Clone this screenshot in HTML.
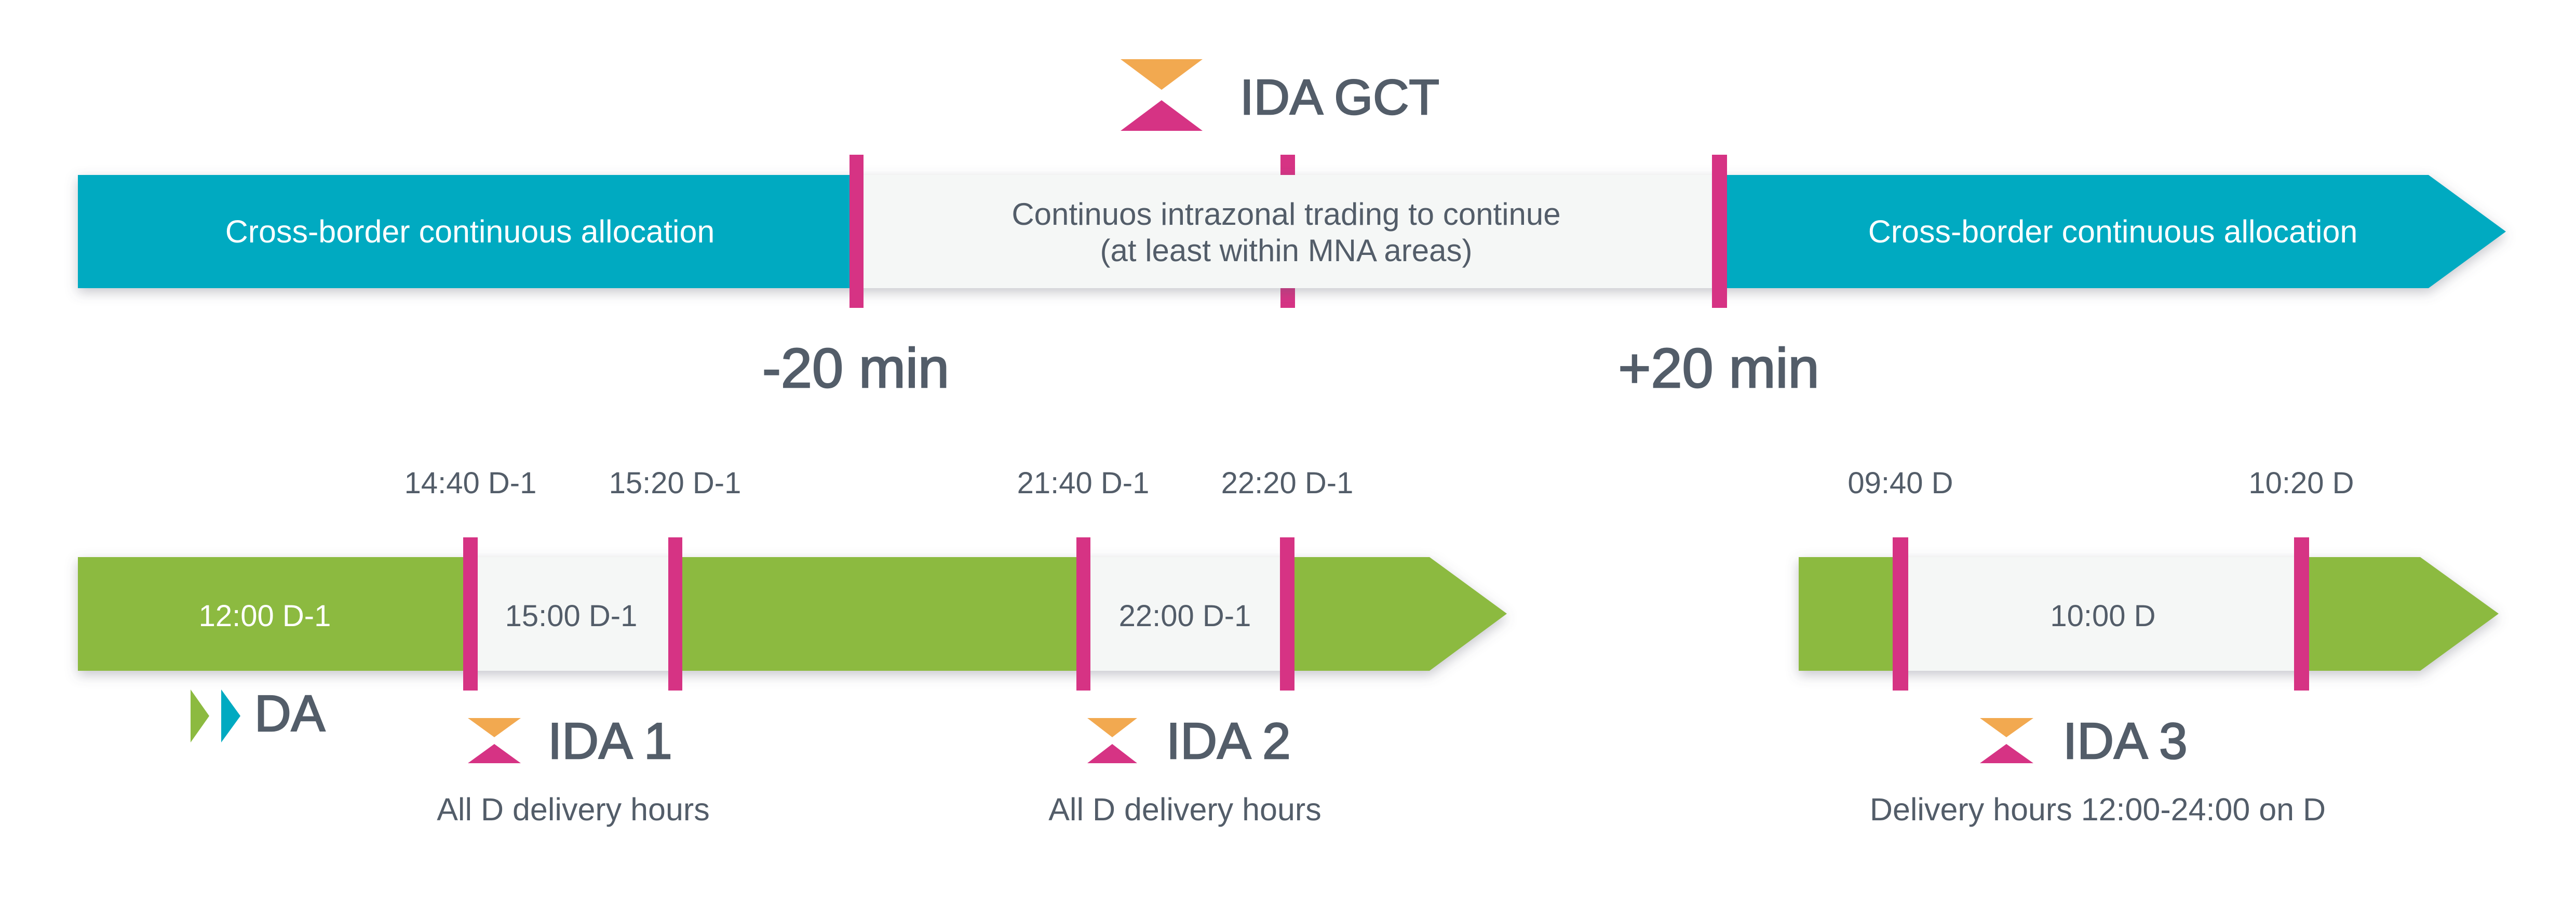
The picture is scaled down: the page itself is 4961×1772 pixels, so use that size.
<!DOCTYPE html>
<html><head><meta charset="utf-8"><style>
html,body{margin:0;padding:0;background:#fff;}
svg{display:block;}
text{font-family:"Liberation Sans",sans-serif;}
.big{stroke:#535d69;stroke-width:2.5;}
</style></head><body>
<svg width="4961" height="1772" viewBox="0 0 4961 1772" xmlns="http://www.w3.org/2000/svg">
<defs>
<filter id="sh" x="-5%" y="-30%" width="110%" height="160%">
<feDropShadow dx="0" dy="8" stdDeviation="12" flood-color="#606070" flood-opacity="0.35"/>
</filter>
</defs>
<!-- TOP BAR -->
<rect x="2466" y="298" width="28" height="295" fill="#d63384"/>
<polygon points="150,337 4677,337 4826,446 4677,555 150,555" fill="#00aac1" filter="url(#sh)"/>
<rect x="1650" y="337" width="1660" height="218" fill="#f5f7f6"/>
<rect x="1636" y="298" width="27" height="295" fill="#d63384"/>
<rect x="3297" y="298" width="29" height="295" fill="#d63384"/>
<text x="905" y="467" font-size="61" fill="#fff" text-anchor="middle">Cross-border continuous allocation</text>
<text x="4069" y="467" font-size="61" fill="#fff" text-anchor="middle">Cross-border continuous allocation</text>
<text x="2477" y="433" font-size="60" fill="#535d69" text-anchor="middle">Continuos intrazonal trading to continue</text>
<text x="2477" y="503" font-size="60" fill="#535d69" text-anchor="middle">(at least within MNA areas)</text>
<!-- IDA GCT -->
<polygon points="2158,114 2316,114 2237,173" fill="#f2a950"/>
<polygon points="2237,193 2316,252 2158,252" fill="#d63384"/>
<text class="big" x="2388" y="220" font-size="96" fill="#535d69">IDA GCT</text>
<text class="big" x="1648" y="746" font-size="108" fill="#535d69" text-anchor="middle">-20 min</text>
<text class="big" x="3310" y="746" font-size="108" fill="#535d69" text-anchor="middle">+20 min</text>
<!-- BOTTOM BAR 1 -->
<polygon points="150,1073 2753,1073 2902,1182 2753,1292 150,1292" fill="#8cba40" filter="url(#sh)"/>
<rect x="906" y="1073" width="394" height="219" fill="#f5f7f6"/>
<rect x="2086" y="1073" width="394" height="219" fill="#f5f7f6"/>
<rect x="892" y="1035" width="28" height="295" fill="#d63384"/>
<rect x="1287" y="1035" width="27" height="295" fill="#d63384"/>
<rect x="2073" y="1035" width="27" height="295" fill="#d63384"/>
<rect x="2465" y="1035" width="28" height="295" fill="#d63384"/>
<text x="510" y="1206" font-size="58" fill="#fff" text-anchor="middle">12:00 D-1</text>
<text x="1100" y="1206" font-size="58" fill="#535d69" text-anchor="middle">15:00 D-1</text>
<text x="2282" y="1206" font-size="58" fill="#535d69" text-anchor="middle">22:00 D-1</text>
<!-- BOTTOM BAR 2 -->
<polygon points="3464,1073 4661,1073 4812,1182 4661,1292 3464,1292" fill="#8cba40" filter="url(#sh)"/>
<rect x="3660" y="1073" width="772" height="219" fill="#f5f7f6"/>
<rect x="3645" y="1035" width="30" height="295" fill="#d63384"/>
<rect x="4418" y="1035" width="29" height="295" fill="#d63384"/>
<text x="4050" y="1206" font-size="58" fill="#535d69" text-anchor="middle">10:00 D</text>
<!-- time labels -->
<g font-size="58" fill="#535d69" text-anchor="middle">
<text x="906" y="950">14:40 D-1</text>
<text x="1300" y="950">15:20 D-1</text>
<text x="2086" y="950">21:40 D-1</text>
<text x="2479" y="950">22:20 D-1</text>
<text x="3660" y="950">09:40 D</text>
<text x="4432" y="950">10:20 D</text>
</g>
<!-- DA -->
<polygon points="367,1328 403,1379 367,1430" fill="#8cba40"/>
<polygon points="426,1328 463,1379 426,1430" fill="#00aac1"/>
<text class="big" x="490" y="1408" font-size="98" fill="#535d69">DA</text>
<!-- IDA 1 -->
<polygon points="901,1383 1003,1383 952,1420" fill="#f2a950"/>
<polygon points="952,1433 1003,1470 901,1470" fill="#d63384"/>
<text class="big" x="1055" y="1461" font-size="98" fill="#535d69">IDA 1</text>
<text x="1104" y="1580" font-size="61" fill="#535d69" text-anchor="middle">All D delivery hours</text>
<!-- IDA 2 -->
<polygon points="2094,1383 2190,1383 2142,1420" fill="#f2a950"/>
<polygon points="2142,1433 2190,1470 2094,1470" fill="#d63384"/>
<text class="big" x="2246" y="1461" font-size="98" fill="#535d69">IDA 2</text>
<text x="2282" y="1580" font-size="61" fill="#535d69" text-anchor="middle">All D delivery hours</text>
<!-- IDA 3 -->
<polygon points="3813,1383 3916,1383 3864,1420" fill="#f2a950"/>
<polygon points="3864,1433 3916,1470 3813,1470" fill="#d63384"/>
<text class="big" x="3973" y="1461" font-size="98" fill="#535d69">IDA 3</text>
<text x="4040" y="1580" font-size="61" fill="#535d69" text-anchor="middle">Delivery hours 12:00-24:00 on D</text>
</svg>
</body></html>
